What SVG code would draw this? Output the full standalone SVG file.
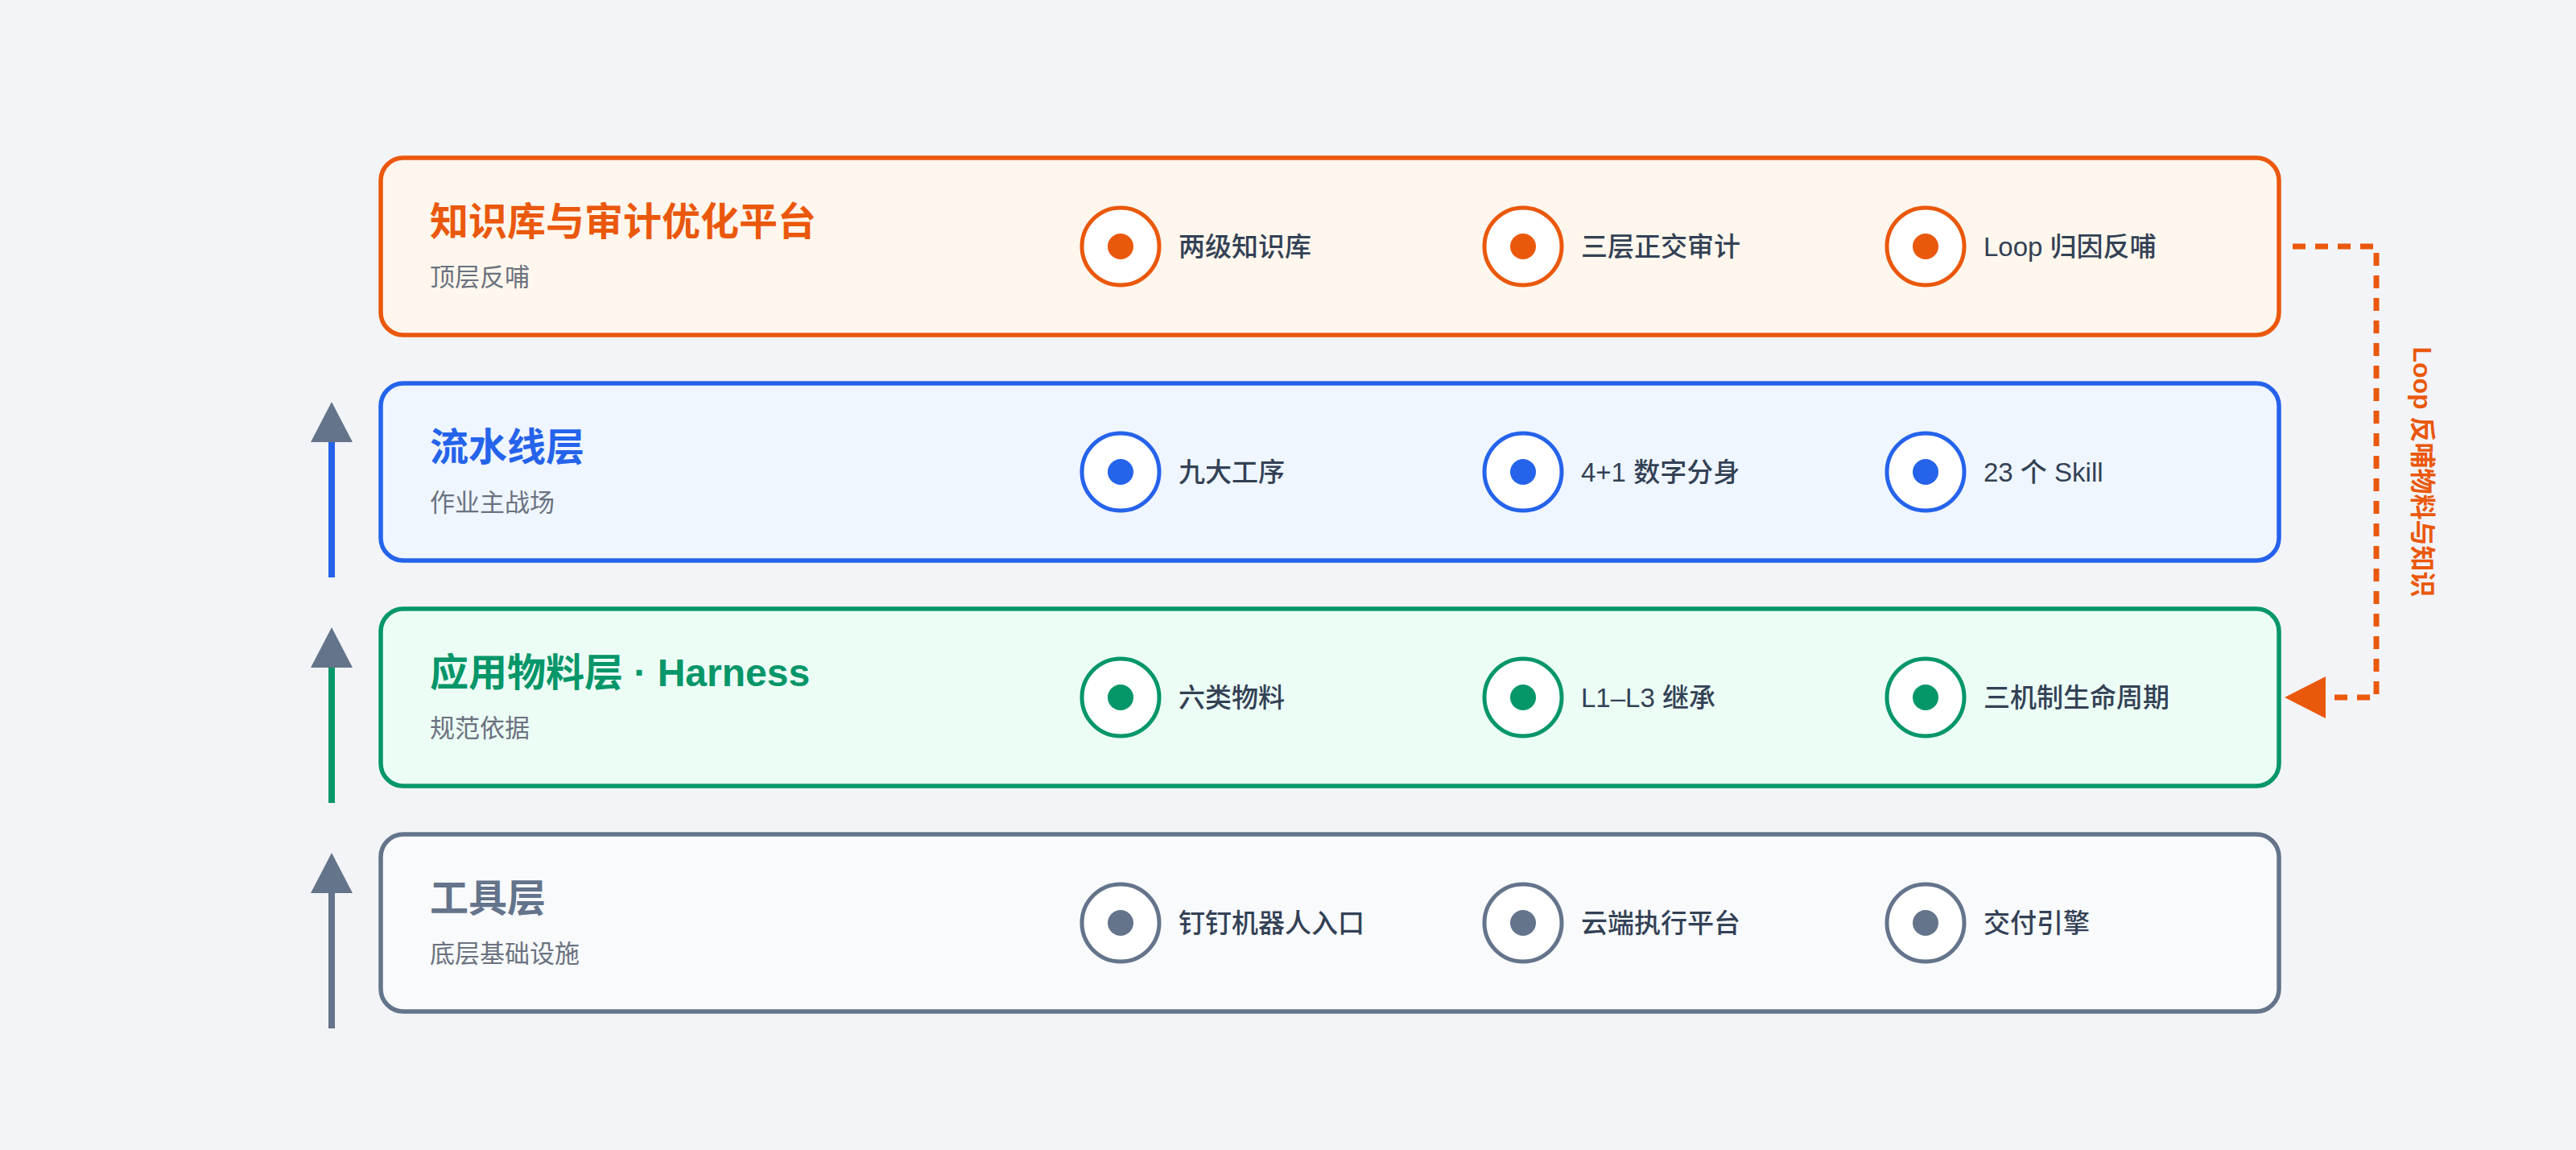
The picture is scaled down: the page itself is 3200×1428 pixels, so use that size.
<svg xmlns="http://www.w3.org/2000/svg" width="3200" height="1428" viewBox="0 0 3200 1428">
  <defs>
    <style>
      text { font-family: "Liberation Sans", "Noto Sans CJK SC", sans-serif; }
      .title { font-size: 48px; font-weight: 700; }
      .sub { font-size: 31px; fill: #6b7280; }
      .item { font-size: 33px; font-weight: 500; fill: #334155; }
      .ring { fill: #ffffff; stroke-width: 5; }
      .box { stroke-width: 5.5; }
      .head { fill: #64748b; }
    </style>
  </defs>
  <rect x="0" y="0" width="3200" height="1428" fill="#f3f4f7"/>

  <g id="connectors">
    <g id="arrow-tool-to-harness">
      <rect x="408" y="1107" width="8" height="170" fill="#64748b"/>
      <polygon class="head" points="412,1059 386,1109 438,1109"/>
    </g>
    <g id="arrow-harness-to-pipeline">
      <rect x="408" y="827" width="8" height="170" fill="#059669"/>
      <polygon class="head" points="412,779 386,829 438,829"/>
    </g>
    <g id="arrow-pipeline-to-kb">
      <rect x="408" y="547" width="8" height="170" fill="#2563eb"/>
      <polygon class="head" points="412,499 386,549 438,549"/>
    </g>
    <g id="loop-feedback">
      <path d="M2848 306 H2952 V866 H2889" fill="none" stroke="#ea580c" stroke-width="7" stroke-dasharray="16 12"/>
      <polygon points="2838,866 2889,840 2889,892" fill="#ea580c"/>
      <text transform="translate(3009,586) rotate(90)" text-anchor="middle" dominant-baseline="central" font-size="32" font-weight="700" fill="#ea580c">Loop 反哺物料与知识</text>
    </g>
  </g>

  <g id="layer-kb">
    <rect class="box" x="473" y="196" width="2358" height="220" rx="28" fill="#fff7ed" stroke="#ea580c"/>
    <text class="title" x="534" y="292" fill="#ea580c">知识库与审计优化平台</text>
    <text class="sub" x="534" y="355">顶层反哺</text>
    <circle class="ring" cx="1392" cy="306" r="48" stroke="#ea580c"/>
    <circle cx="1392" cy="306" r="16" fill="#ea580c"/>
    <text class="item" x="1464" y="318">两级知识库</text>
    <circle class="ring" cx="1892" cy="306" r="48" stroke="#ea580c"/>
    <circle cx="1892" cy="306" r="16" fill="#ea580c"/>
    <text class="item" x="1964" y="318">三层正交审计</text>
    <circle class="ring" cx="2392" cy="306" r="48" stroke="#ea580c"/>
    <circle cx="2392" cy="306" r="16" fill="#ea580c"/>
    <text class="item" x="2464" y="318">Loop 归因反哺</text>
  </g>

  <g id="layer-pipeline">
    <rect class="box" x="473" y="476" width="2358" height="220" rx="28" fill="#eff6ff" stroke="#2563eb"/>
    <text class="title" x="534" y="572" fill="#2563eb">流水线层</text>
    <text class="sub" x="534" y="635">作业主战场</text>
    <circle class="ring" cx="1392" cy="586" r="48" stroke="#2563eb"/>
    <circle cx="1392" cy="586" r="16" fill="#2563eb"/>
    <text class="item" x="1464" y="598">九大工序</text>
    <circle class="ring" cx="1892" cy="586" r="48" stroke="#2563eb"/>
    <circle cx="1892" cy="586" r="16" fill="#2563eb"/>
    <text class="item" x="1964" y="598">4+1 数字分身</text>
    <circle class="ring" cx="2392" cy="586" r="48" stroke="#2563eb"/>
    <circle cx="2392" cy="586" r="16" fill="#2563eb"/>
    <text class="item" x="2464" y="598">23 个 Skill</text>
  </g>

  <g id="layer-harness">
    <rect class="box" x="473" y="756" width="2358" height="220" rx="28" fill="#ecfdf5" stroke="#059669"/>
    <text class="title" x="534" y="852" fill="#059669">应用物料层 · Harness</text>
    <text class="sub" x="534" y="915">规范依据</text>
    <circle class="ring" cx="1392" cy="866" r="48" stroke="#059669"/>
    <circle cx="1392" cy="866" r="16" fill="#059669"/>
    <text class="item" x="1464" y="878">六类物料</text>
    <circle class="ring" cx="1892" cy="866" r="48" stroke="#059669"/>
    <circle cx="1892" cy="866" r="16" fill="#059669"/>
    <text class="item" x="1964" y="878">L1–L3 继承</text>
    <circle class="ring" cx="2392" cy="866" r="48" stroke="#059669"/>
    <circle cx="2392" cy="866" r="16" fill="#059669"/>
    <text class="item" x="2464" y="878">三机制生命周期</text>
  </g>

  <g id="layer-tool">
    <rect class="box" x="473" y="1036" width="2358" height="220" rx="28" fill="#f8fafc" stroke="#64748b"/>
    <text class="title" x="534" y="1132" fill="#64748b">工具层</text>
    <text class="sub" x="534" y="1195">底层基础设施</text>
    <circle class="ring" cx="1392" cy="1146" r="48" stroke="#64748b"/>
    <circle cx="1392" cy="1146" r="16" fill="#64748b"/>
    <text class="item" x="1464" y="1158">钉钉机器人入口</text>
    <circle class="ring" cx="1892" cy="1146" r="48" stroke="#64748b"/>
    <circle cx="1892" cy="1146" r="16" fill="#64748b"/>
    <text class="item" x="1964" y="1158">云端执行平台</text>
    <circle class="ring" cx="2392" cy="1146" r="48" stroke="#64748b"/>
    <circle cx="2392" cy="1146" r="16" fill="#64748b"/>
    <text class="item" x="2464" y="1158">交付引擎</text>
  </g>
</svg>
